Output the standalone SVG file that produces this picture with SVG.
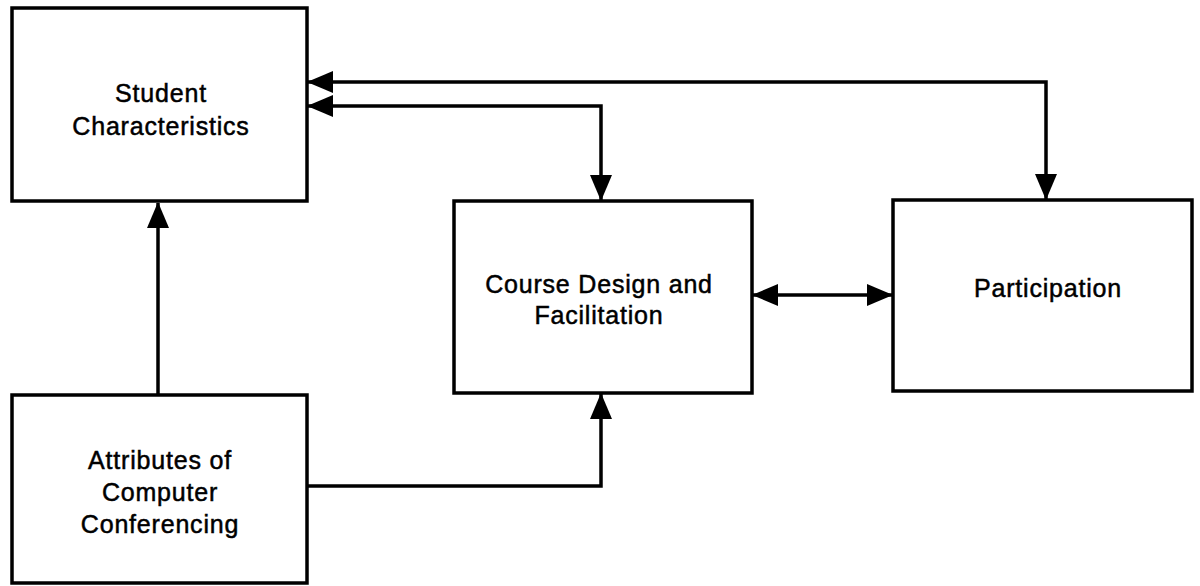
<svg xmlns="http://www.w3.org/2000/svg" width="1200" height="586" viewBox="0 0 1200 586">
  <style>
    .box { fill: #ffffff; stroke: #000000; stroke-width: 3.5; }
    .label { font-family: "Liberation Sans", Arial, sans-serif; font-size: 25px; letter-spacing: 0.8px; fill: #000000; stroke: #000000; stroke-width: 0.5px; text-anchor: middle; }
    .conn { fill: none; stroke: #000000; stroke-width: 3.5; stroke-linejoin: miter; }
  </style>
  <defs>
    <marker id="arrow" viewBox="0 0 26 22" refX="25" refY="11" markerWidth="26" markerHeight="22" markerUnits="userSpaceOnUse" orient="auto-start-reverse">
      <path d="M0,0 L26,11 L0,22 Z" fill="#000000"/>
    </marker>
  </defs>
  <rect width="1200" height="586" fill="#ffffff"/>

  <g id="student">
    <rect class="box" x="12" y="8" width="295" height="193"/>
    <text class="label" x="161" y="102">Student</text>
    <text class="label" x="161" y="135">Characteristics</text>
  </g>

  <g id="course">
    <rect class="box" x="454" y="201" width="298" height="192"/>
    <text class="label" x="599" y="293">Course Design and</text>
    <text class="label" x="599" y="324">Facilitation</text>
  </g>

  <g id="participation">
    <rect class="box" x="893" y="200" width="299" height="191"/>
    <text class="label" x="1048" y="297">Participation</text>
  </g>

  <g id="attributes">
    <rect class="box" x="12" y="395" width="295" height="188"/>
    <text class="label" x="160" y="469">Attributes of</text>
    <text class="label" x="160" y="501">Computer</text>
    <text class="label" x="160" y="533">Conferencing</text>
  </g>

  <g id="connectors">
    <path class="conn" d="M158,395 L158,203" marker-end="url(#arrow)"/>
    <path class="conn" d="M307,486 L601,486 L601,394" marker-end="url(#arrow)"/>
    <path class="conn" d="M308,106 L601,106 L601,200" marker-start="url(#arrow)" marker-end="url(#arrow)"/>
    <path class="conn" d="M308,82 L1046,82 L1046,199" marker-start="url(#arrow)" marker-end="url(#arrow)"/>
    <path class="conn" d="M753,295 L892,295" marker-start="url(#arrow)" marker-end="url(#arrow)"/>
  </g>
</svg>
